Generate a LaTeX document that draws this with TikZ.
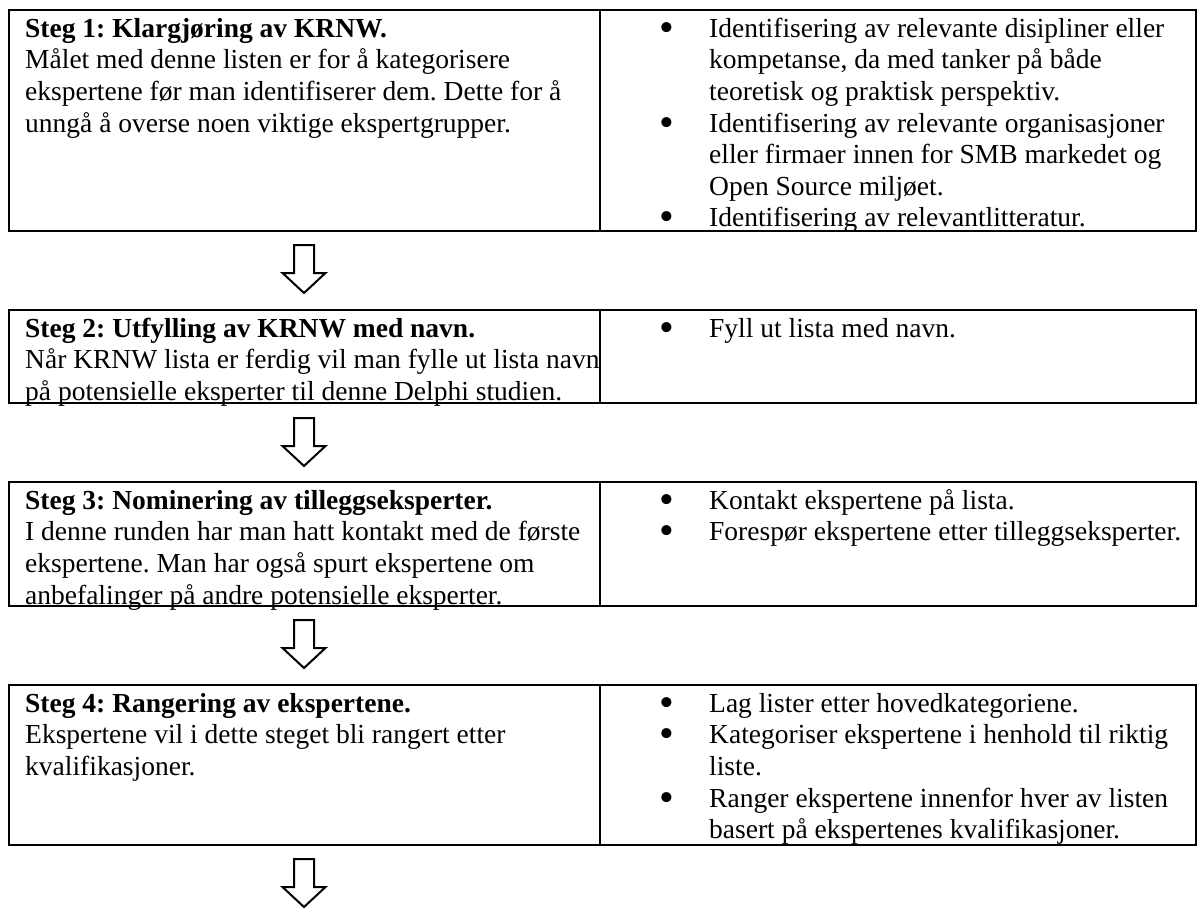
\documentclass[tikz,border=0pt]{standalone}
\usepackage{fontspec}
\setmainfont{Liberation Serif}
\frenchspacing
\newcommand\fs{\fontsize{27.5}{31.6}\selectfont}
\newcommand\st{\rule{0pt}{26pt}}
\newcommand\bst{\rule{0pt}{30pt}}
\newcommand\nl{\mbox{}}
\tikzset{
  frame/.style={line width=2.4pt},
  txt/.style={inner sep=0pt, anchor=north west, align=left, font=\fs},
  bullist/.style={inner sep=0pt, anchor=north, align=center, font=\fontsize{42}{31.6}\selectfont},
  hollow/.style={line width=2pt, line join=miter},
}
\begin{document}
\begin{tikzpicture}[x=1pt,y=-1pt]
\useasboundingbox (0,0) rectangle (1199,913);
% boxes
\draw[frame] (9,10) rectangle (1196,231);
\draw[frame] (600,10) -- (600,231);
\draw[frame] (9,310) rectangle (1196,403);
\draw[frame] (600,310) -- (600,403);
\draw[frame] (9,482) rectangle (1196,606);
\draw[frame] (600,482) -- (600,606);
\draw[frame] (9,685) rectangle (1196,845);
\draw[frame] (600,685) -- (600,845);
% left texts
\node[txt] (t1) at (25,11) {\st\textbf{Steg 1: Klargjøring av KRNW.}\\Målet med denne listen er for å kategorisere\\ekspertene før man identifiserer dem. Dette for å\\unngå å overse noen viktige ekspertgrupper.};
\node[txt] (t2) at (25,311) {\st\textbf{Steg 2: Utfylling av KRNW med navn.}\\Når KRNW lista er ferdig vil man fylle ut lista navn\\på potensielle eksperter til denne Delphi studien.};
\node[txt] (t3) at (25,483) {\st\textbf{Steg 3: Nominering av tilleggseksperter.}\\I denne runden har man hatt kontakt med de første\\ekspertene. Man har også spurt ekspertene om\\anbefalinger på andre potensielle eksperter.};
\node[txt] (t4) at (25,686) {\st\textbf{Steg 4: Rangering av ekspertene.}\\Ekspertene vil i dette steget bli rangert etter\\kvalifikasjoner.};
% right texts
\node[txt] (r1) at (709,11) {\st Identifisering av relevante disipliner eller\\kompetanse, da med tanker på både\\teoretisk og praktisk perspektiv.\\Identifisering av relevante organisasjoner\\eller firmaer innen for SMB markedet og\\Open Source miljøet.\\Identifisering av relevantlitteratur.};
\node[bullist] (b1) at (667,11) {\bst•\\\nl\\\nl\\•\\\nl\\\nl\\•};
\node[txt] (r2) at (709,311) {\st Fyll ut lista med navn.};
\node[bullist] (b2) at (667,311) {\bst•};
\node[txt] (r3) at (709,483) {\st Kontakt ekspertene på lista.\\Forespør ekspertene etter tilleggseksperter.};
\node[bullist] (b3) at (667,483) {\bst•\\•};
\node[txt] (r4) at (709,686) {\st Lag lister etter hovedkategoriene.\\Kategoriser ekspertene i henhold til riktig\\liste.\\Ranger ekspertene innenfor hver av listen\\basert på ekspertenes kvalifikasjoner.};
\node[bullist] (b4) at (667,686) {\bst•\\•\\\nl\\•};
% hollow arrows
\foreach \n/\y in {a1/245, a2/418, a3/620, a4/859} {
  \coordinate (\n) at (304,\y);
  \draw[hollow] (\n) ++(-10,0) -- ++(0,28) -- ++(-11.5,0) -- ++(21.5,20) -- ++(21.5,-20) -- ++(-11.5,0) -- ++(0,-28) -- cycle;
}
\end{tikzpicture}
\end{document}
